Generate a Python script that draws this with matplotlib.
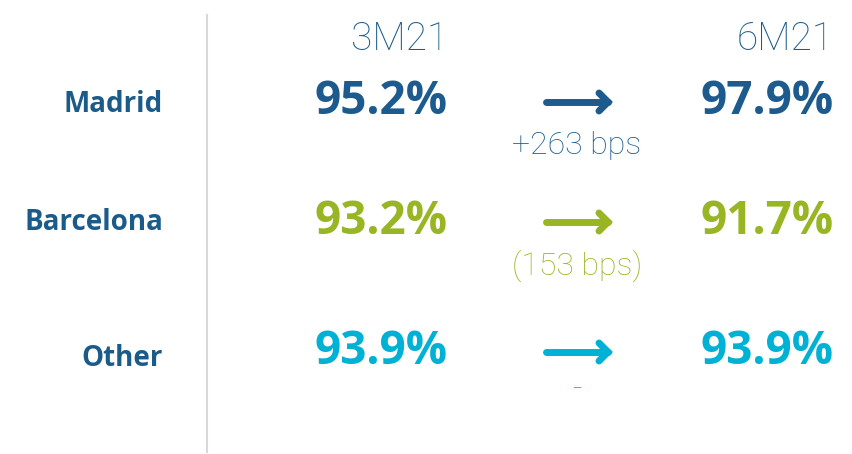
import matplotlib
matplotlib.use("Agg")
import matplotlib.pyplot as plt

# Data
regions = ["Madrid", "Barcelona", "Other"]
periods = ["3M21", "6M21"]
values_3m = [95.2, 93.2, 93.9]
values_6m = [97.9, 91.7, 93.9]
changes = ["+263 bps", "(153 bps)", "-"]
colors = ["#1d5b8f", "#98b524", "#00b1d6"]
label_color = "#1b5b8a"

W, H = 852, 454
fig = plt.figure(figsize=(W / 100, H / 100), dpi=100)
ax = fig.add_axes([0, 0, 1, 1])
ax.set_xlim(0, W)
ax.set_ylim(H, 0)
ax.axis("off")

BOLD = "Open Sans"
LIGHT = "Roboto"

# Layout
row_y = [102, 222, 352]
lab_y = [104, 222, 358]
chg_y = [145, 266, 390]
x_label = 163
x_v1 = 448
x_v2 = 834
x_a0, x_a1 = 546, 608
x_chg = 577

# vertical separator
ax.plot([207, 207], [15, 452], color="#d9d9d9", lw=1.5)

# headers
ax.text(x_v1, 39, periods[0], ha="right", va="center", fontsize=28,
        fontweight="light", color=label_color, family=LIGHT)
ax.text(x_v2, 39, periods[1], ha="right", va="center", fontsize=28,
        fontweight="light", color=label_color, family=LIGHT)

for i, r in enumerate(regions):
    y = row_y[i]
    c = colors[i]
    ax.text(x_label, lab_y[i], r, ha="right", va="center", fontsize=20,
            fontweight="bold", color=label_color, family=BOLD)
    ax.text(x_v1, y, f"{values_3m[i]:.1f}%", ha="right", va="center",
            fontsize=33, fontweight="bold", color=c, family=BOLD)
    ax.text(x_v2, y, f"{values_6m[i]:.1f}%", ha="right", va="center",
            fontsize=33, fontweight="bold", color=c, family=BOLD)
    # arrow
    ax.plot([x_a0, x_a1], [y, y], color=c, lw=5, solid_capstyle="round")
    ax.plot([x_a1 - 9, x_a1, x_a1 - 9], [y - 9, y, y + 9], color=c, lw=5,
            solid_capstyle="round", solid_joinstyle="miter")
    ax.text(x_chg, chg_y[i], changes[i], ha="center", va="center",
            fontsize=23, fontweight="light", color=c, family=LIGHT)

fig.savefig("out.png", dpi=100)
